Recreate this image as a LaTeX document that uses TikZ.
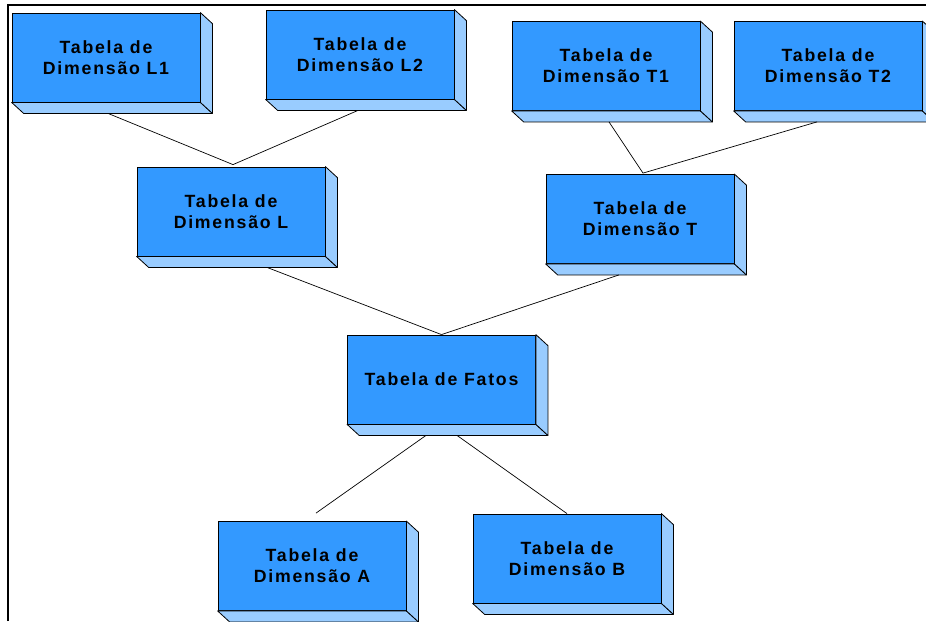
\documentclass[tikz,border=0pt]{standalone}
\usepackage{fontspec}
\newfontfamily\tabfont{Liberation Sans}[LetterSpace=10]
\usepackage{tikz}
\usetikzlibrary{positioning}
\definecolor{frontblue}{RGB}{51,153,255}
\definecolor{sideblue}{RGB}{153,204,255}

\begin{document}
\begin{tikzpicture}[x=1pt,y=-1pt,
  tabela/.style={draw=black, line width=0.8pt, fill=frontblue, minimum width=188pt, minimum height=89pt,
    inner sep=0pt, align=center, font=\tabfont\bfseries\fontsize{17.7}{21}\selectfont},
  side/.style={draw=black, line width=0.8pt, fill=sideblue, line join=round},
  link/.style={line width=0.7pt}]

\useasboundingbox (0,0) rectangle (926,621);

\draw[line width=2.3pt] (8,621) -- (8,5) -- (926,5);

\node[tabela] (l1) at (106,57.5) {Tabela de\\Dimensão L1};
\node[tabela] (l2) at (360,54.5) {Tabela de\\Dimensão L2};
\node[tabela] (t1) at (606,66) {Tabela de\\Dimensão T1};
\node[tabela] (t2) at (828,66) {Tabela de\\Dimensão T2};
\node[tabela] (l) at (231,211.5) {Tabela de\\Dimensão L};
\node[tabela] (t) at (640,219) {Tabela de\\Dimensão T};
\node[tabela] (fatos) at (441.5,379.5) {Tabela de Fatos};
\node[tabela] (a) at (312,566) {Tabela de\\Dimensão A};
\node[tabela] (b) at (567,558.5) {Tabela de\\Dimensão B};

% depth of the boxes
\foreach \n in {l1,l2,t1,t2,l,t,fatos,a,b} {
  \filldraw[side] (\n.south west) -- ([shift={(12,11)}]\n.south west) -- ([shift={(12,11)}]\n.south east) -- (\n.south east) -- cycle;
  \filldraw[side] (\n.north east) -- ([shift={(12,11)}]\n.north east) -- ([shift={(12,11)}]\n.south east) -- (\n.south east) -- cycle;
}

\draw[link] ([shift={(2,11)}]l1.south) -- ([shift={(2,-2)}]l.north);
\draw[link] ([shift={(-2,11)}]l2.south) -- ([shift={(2,-2)}]l.north);
\draw[link] ([shift={(3,11)}]t1.south) -- ([shift={(3,-1)}]t.north);
\draw[link] ([shift={(-11,11)}]t2.south) -- ([shift={(3,-1)}]t.north);

\draw[link] ([shift={(36,11)}]l.south) -- (fatos.north);
\draw[link] ([shift={(-21,11)}]t.south) -- (fatos.north);

\draw[link] ([shift={(-15.5,11)}]fatos.south) -- ([shift={(4,-8)}]a.north);
\draw[link] ([shift={(15.5,11)}]fatos.south) -- (b.north);
\end{tikzpicture}
\end{document}
